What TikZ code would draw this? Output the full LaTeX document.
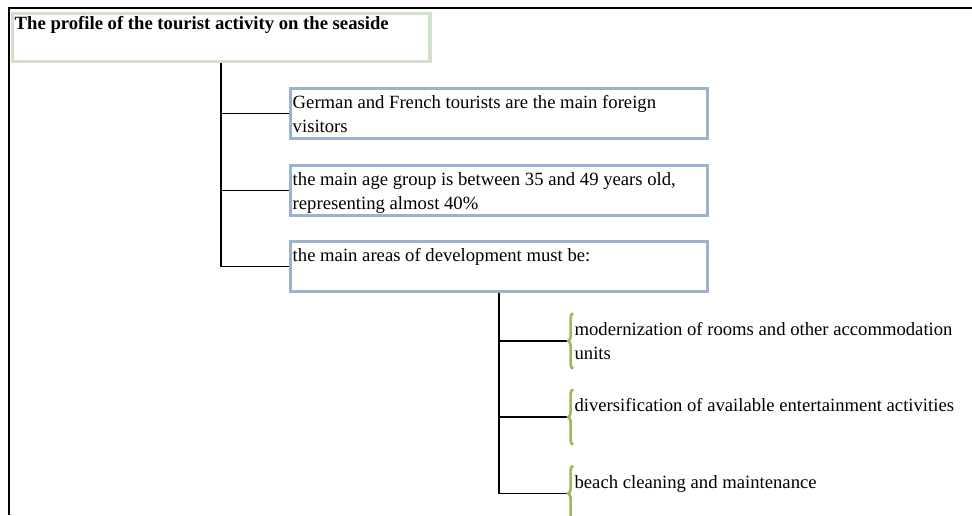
\documentclass[tikz,border=0pt]{standalone}
\usepackage{fontspec}
\setmainfont{Liberation Serif}
\usetikzlibrary{positioning,decorations.pathreplacing}

\definecolor{titleframe}{HTML}{D4E0CF}
\definecolor{boxframe}{HTML}{9DB2CF}
\definecolor{bracegreen}{HTML}{9BBB59}

% text block with fixed size, first line pushed down from the top
\newcommand{\boxtext}[4]{\parbox[c][#2][t]{#1}{\raggedright\hyphenpenalty=10000\rule{0pt}{#3}#4}}

\tikzset{
  frameline/.style={line width=1.5pt, black},
  titlebox/.style={draw=titleframe, line width=2.6pt, fill=white, anchor=north west,
    inner xsep=1.5pt, inner ysep=0pt},
  infobox/.style={draw=boxframe, line width=2.6pt, fill=white, anchor=north west,
    inner xsep=1.5pt, inner ysep=0pt},
  subitem/.style={anchor=west, inner xsep=1pt, inner ysep=0pt},
  trunk/.style={line width=1.5pt},
  link/.style={line width=1.1pt},
  greenbrace/.style={draw=bracegreen, line width=2pt, decorate,
    decoration={brace, amplitude=3.6pt}}
}

\begin{document}
\begin{tikzpicture}[x=0.75pt, y=-0.75pt, font=\fontsize{14}{18}\selectfont]
    \useasboundingbox (0,0) rectangle (972,515);

    % --- Outer frame ---
    \draw[frameline] (9,515) -- (9,7.5) -- (972,7.5);

    % --- Title ---
    \node[titlebox] (title) at (11,12)
        {\boxtext{310pt}{36pt}{12pt}{\bfseries The profile of the tourist activity on the seaside}};

    % --- First level ---
    \node[infobox] (b1) at (289,86.5)
        {\boxtext{309.75pt}{37.5pt}{15pt}{German and French tourists are the main foreign visitors}};
    \node[infobox] (b2) at (289,163.5)
        {\boxtext{309.75pt}{37.5pt}{15pt}{the main age group is between 35 and 49 years old, representing almost 40\%}};
    \node[infobox] (b3) at (289,240)
        {\boxtext{309.75pt}{37.5pt}{15pt}{the main areas of development must be:}};

    % --- Second level ---
    \node[subitem] (s1) at (573,341)
        {\boxtext{292pt}{41.25pt}{16.5pt}{modernization of rooms and other accommodation units}};
    \node[subitem] (s2) at (573,417)
        {\boxtext{292pt}{41.25pt}{16.5pt}{diversification of available entertainment activities}};
    \node[subitem] (s3) at (573,493.5)
        {\boxtext{292pt}{41.25pt}{16.5pt}{beach cleaning and maintenance}};

    % --- Connectors ---
    \draw[trunk] (title.south) -- (title.south |- b3.west);
    \foreach \b in {b1,b2,b3}
        \draw[link] (title.south |- \b.west) -- (\b.west);

    \draw[trunk] (b3.south) -- (b3.south |- s3.west);
    \foreach \s in {s1,s2,s3} {
        \draw[link] (b3.south |- \s.west) -- ([xshift=-3.6pt]\s.west);
        \draw[greenbrace] (\s.south west) -- (\s.north west);
    }

\end{tikzpicture}
\end{document}
